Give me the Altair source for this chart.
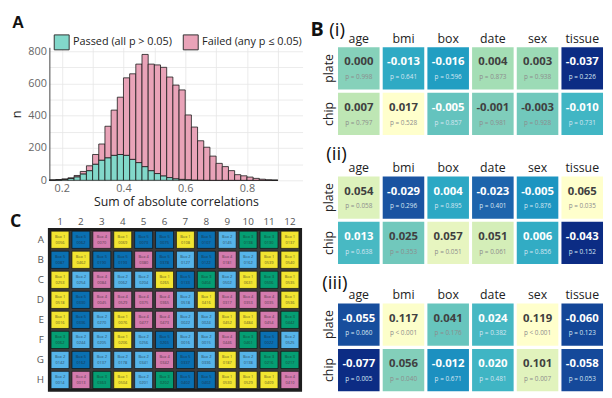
import altair as alt
import pandas as pd
import numpy as np

FONT = "Open Sans"

# ---------------- Panel A : histogram ----------------
bin_start = [0.16, 0.18, 0.20, 0.22, 0.24, 0.26, 0.28, 0.30, 0.32, 0.34, 0.36, 0.38,
             0.40, 0.42, 0.44, 0.46, 0.48, 0.50, 0.52, 0.54, 0.56, 0.58, 0.60, 0.62,
             0.64, 0.66, 0.68, 0.70, 0.72, 0.74, 0.76, 0.78, 0.80, 0.82, 0.84, 0.86, 0.88]
passed = [1, 3, 6, 12, 22, 40, 60, 100, 125, 140, 155, 160, 155, 130, 110, 85, 60, 42,
          28, 17, 10, 6, 4, 2, 1, 0, 0, 0, 0, 0, 0, 0, 0, 0, 0, 0, 0]
failed = [1, 1, 2, 3, 8, 15, 30, 60, 100, 195, 280, 355, 480, 530, 610, 695, 660, 673,
          672, 623, 580, 554, 401, 328, 244, 205, 150, 105, 85, 60, 35, 28, 20, 12, 7, 3, 1]
BIN_W = 0.02
groups = ["Passed (all p > 0.05)", "Failed (any p \u2264 0.05)"]
hist_colors = ["#82D8CA", "#E9A3B8"]

rowsA = []
for s, p, f in zip(bin_start, passed, failed):
    rowsA.append(dict(x0=s, x1=round(s + BIN_W, 3), lo=0, hi=p, grp=groups[0]))
    rowsA.append(dict(x0=s, x1=round(s + BIN_W, 3), lo=p, hi=p + f, grp=groups[1]))
dfA = pd.DataFrame(rowsA)

x_vals = [0.2, 0.3, 0.4, 0.5, 0.6, 0.7, 0.8, 0.9]
y_vals = [0, 100, 200, 300, 400, 500, 600, 700, 800]

hist = alt.Chart(dfA).mark_rect(stroke="#1a1a1a", strokeWidth=0.8).encode(
    x=alt.X("x0:Q", scale=alt.Scale(domain=[0.16, 0.98], nice=False, zero=False),
            axis=alt.Axis(values=x_vals,
                          labelExpr="(datum.value*10) % 2 < 0.5 ? datum.label : ''",
                          title="Sum of absolute correlations", titleFontSize=12.5,
                          titleFontWeight="normal", titleColor="#222", titlePadding=3,
                          labelColor="#666", labelFontSize=11, labelPadding=2,
                          ticks=False, domain=False, gridColor="#e6e6e6", gridWidth=0.8)),
    x2="x1",
    y=alt.Y("lo:Q", scale=alt.Scale(domain=[0, 824], nice=False),
            axis=alt.Axis(values=y_vals,
                          labelExpr="datum.value % 200 == 0 ? datum.label : ''",
                          title="n", titleFontSize=13, titleFontWeight="normal",
                          titleColor="#222", titlePadding=4,
                          labelColor="#666", labelFontSize=11, labelPadding=3,
                          ticks=False, domain=True, domainColor="#444", domainWidth=1,
                          gridColor="#e6e6e6", gridWidth=0.8)),
    y2="hi",
    color=alt.Color("grp:N", scale=alt.Scale(domain=groups, range=hist_colors),
                    legend=alt.Legend(orient="none", legendX=4, legendY=-14,
                                      direction="horizontal", title=None,
                                      symbolType="square", symbolSize=230,
                                      symbolStrokeColor="#333", symbolStrokeWidth=1,
                                      labelFontSize=11, labelColor="#222",
                                      columnPadding=8, labelOffset=3)),
)

labA = alt.Chart(pd.DataFrame({"t": ["A"]})).mark_text(
    fontSize=17, fontWeight="bold", align="left", baseline="alphabetic", color="#111",
    font="Liberation Sans"
).encode(text="t:N", x=alt.value(-38), y=alt.value(-20))

# invisible spacer that keeps the panel's top edge where the layout needs it
spacerA = alt.Chart(pd.DataFrame({"k": [0]})).mark_rule(opacity=0).encode(
    x=alt.value(0), y=alt.value(-39), y2=alt.value(-38))

panelA = alt.layer(hist, labA, spacerA).properties(width=257, height=135)

# ---------------- Panel C : plate layout ----------------
plate_rows = ["A", "B", "C", "D", "E", "F", "G", "H"]
plate_cols = [str(i) for i in range(1, 13)]
plate_groups = [
    "YDPYDDYDLGGY",
    "DYDDPDLDPLYY",
    "YLPLLYDGLYGY",
    "YDPPPPLYPPPY",
    "YDLYPPLLYYPG",
    "GLLYLDLLPGDL",
    "LDLLLPDLYLGG",
    "LPGYLGDDYYYP",
]
plate_ids = [
    ["0056", "0062", "0070", "0069", "0073", "0075", "0108", "0107", "0145", "0138", "0130", "0137"],
    ["0087", "0462", "0190", "0193", "0380", "0378", "0127", "0122", "0181", "0162", "0539", "0540"],
    ["0253", "0254", "0084", "0062", "0204", "0265", "0133", "0404", "0502", "0631", "0506", "0535"],
    ["0518", "0330", "0045", "0529", "0375", "0365", "0518", "0416", "0317", "0353", "0035", "0536"],
    ["0016", "0336", "0270", "0076", "0477", "0473", "0022", "0024", "0452", "0484", "0454", "0442"],
    ["0062", "0244", "0205", "0206", "0256", "0265", "0016", "0015", "0446", "0461", "0022", "0525"],
    ["0142", "0162", "0137", "0178", "0341", "0342", "0337", "0336", "0187", "0138", "0216", "0217"],
    ["0014", "0013", "0363", "0504", "0201", "0202", "0402", "0402", "0530", "0529", "0409", "0410"],
]
group_keys = ["Y", "D", "P", "L", "G"]
group_box = {"Y": "Box 1", "D": "Box 5", "P": "Box 4", "L": "Box 2", "G": "Box 3"}
plate_palette = ["#F2E531", "#0A70B2", "#D47BAE", "#56B4E9", "#059E73"]

rowsC = []
for ri, r in enumerate(plate_rows):
    for ci, c in enumerate(plate_cols):
        g = plate_groups[ri][ci]
        rowsC.append(dict(row=r, col=c, grp=g, box=group_box[g], sid=plate_ids[ri][ci]))
dfC = pd.DataFrame(rowsC)

xC = alt.X("col:O", sort=plate_cols, scale=alt.Scale(paddingInner=0.14, paddingOuter=0.08),
           axis=alt.Axis(orient="top", title=None, labelAngle=0, ticks=False, domain=False,
                         labelPadding=3, labelFontSize=10, labelColor="#555"))
yC = alt.Y("row:O", sort=plate_rows, scale=alt.Scale(paddingInner=0.14, paddingOuter=0.08),
           axis=alt.Axis(title=None, ticks=False, domain=False, labelPadding=6,
                         labelFontSize=10, labelColor="#555"))

cells = alt.Chart(dfC).mark_rect(stroke="#111", strokeWidth=0.7).encode(
    x=xC, y=yC,
    color=alt.Color("grp:N", scale=alt.Scale(domain=group_keys, range=plate_palette), legend=None),
)
t1 = alt.Chart(dfC).mark_text(fontSize=4, dy=-3, color="#222", opacity=0.7).encode(
    x=xC, y=yC, text="box:N")
t2 = alt.Chart(dfC).mark_text(fontSize=4, dy=3, color="#222", opacity=0.7).encode(
    x=xC, y=yC, text="sid:N")
labC = alt.Chart(pd.DataFrame({"t": ["C"]})).mark_text(
    fontSize=18, fontWeight="bold", align="left", baseline="alphabetic", color="#111"
).encode(text="t:N", x=alt.value(-40), y=alt.value(-3))

panelC = alt.layer(cells, t1, t2, labC).properties(
    width=255, height=163,
    view=alt.ViewBackground(fill="#3a3a3a", stroke="#1e1e1e", strokeWidth=3),
)

# ---------------- Panel B : correlation heatmaps ----------------
variables = ["age", "bmi", "box", "date", "sex", "tissue"]
kinds = ["plate", "chip"]

r_i_plate = [0.000, -0.013, -0.016, 0.004, 0.003, -0.037]
r_i_chip = [0.007, 0.017, -0.005, -0.001, -0.003, -0.010]
p_i_plate = ["p = 0.998", "p = 0.641", "p = 0.596", "p = 0.873", "p = 0.938", "p = 0.226"]
p_i_chip = ["p = 0.797", "p = 0.528", "p = 0.857", "p = 0.981", "p = 0.928", "p = 0.731"]

r_ii_plate = [0.054, -0.029, 0.004, -0.023, -0.005, 0.065]
r_ii_chip = [0.013, 0.025, 0.057, 0.051, 0.006, -0.043]
p_ii_plate = ["p = 0.058", "p = 0.296", "p = 0.895", "p = 0.401", "p = 0.876", "p = 0.035"]
p_ii_chip = ["p = 0.638", "p = 0.353", "p = 0.051", "p = 0.061", "p = 0.856", "p = 0.152"]

r_iii_plate = [-0.055, 0.117, 0.041, 0.024, 0.119, -0.060]
r_iii_chip = [-0.077, 0.056, -0.012, 0.020, 0.101, -0.058]
p_iii_plate = ["p = 0.060", "p < 0.001", "p = 0.176", "p = 0.382", "p < 0.001", "p = 0.123"]
p_iii_chip = ["p = 0.005", "p = 0.040", "p = 0.671", "p = 0.481", "p = 0.007", "p = 0.053"]

YLGNBU = ["#0c2c84", "#225ea8", "#1d91c0", "#41b6c4", "#7fcdbb", "#c7e9b4", "#ffffcc"]


def heat(rp, rc, pp, pc, big, small, sx, sy, first):
    rows = []
    allr = rp + rc
    mn, mx = min(allr), max(allr)
    for kind, rr, pv in (("plate", rp, pp), ("chip", rc, pc)):
        for v, r, p in zip(variables, rr, pv):
            t = (r - mn) / (mx - mn)
            rows.append(dict(var=v, kind=kind, r=r, lab=f"{r:.3f}", ptxt=p, light=bool(t < 0.6)))
    df = pd.DataFrame(rows)
    x = alt.X("var:N", sort=variables, scale=alt.Scale(paddingInner=0.07, paddingOuter=0.0),
              axis=alt.Axis(orient="top", title=None, labelAngle=0, ticks=False, domain=False,
                            labelPadding=2, labelFontSize=12.5, labelColor="#222"))
    y = alt.Y("kind:N", sort=kinds, scale=alt.Scale(paddingInner=0.07, paddingOuter=0.0),
              axis=alt.Axis(title=None, labelAngle=-90, ticks=False, domain=False,
                            labelPadding=3, labelFontSize=12.5, labelColor="#222"))
    dom = [float(v) for v in np.linspace(mn, mx, len(YLGNBU))]
    rect = alt.Chart(df).mark_rect().encode(
        x=x, y=y,
        color=alt.Color("r:Q", scale=alt.Scale(domain=dom, range=YLGNBU), legend=None))
    val = alt.Chart(df).mark_text(fontSize=11.5, fontWeight="bold", dy=-6).encode(
        x=x, y=y, text="lab:N",
        color=alt.condition("datum.light", alt.value("#ffffff"), alt.value("#404040")))
    ptx = alt.Chart(df).mark_text(fontSize=6.5, dy=9).encode(
        x=x, y=y, text="ptxt:N",
        color=alt.condition("datum.light", alt.value("#d6e6f2"), alt.value("#8c8c8c")))
    layers = [rect, val, ptx]
    if first:
        layers.append(alt.Chart(pd.DataFrame({"t": [big]})).mark_text(
            fontSize=20, fontWeight="bold", align="left", baseline="alphabetic", color="#111"
        ).encode(text="t:N", x=alt.value(-28), y=alt.value(sy)))
    layers.append(alt.Chart(pd.DataFrame({"t": [small]})).mark_text(
        fontSize=19, align="left", baseline="alphabetic", color="#111"
    ).encode(text="t:N", x=alt.value(sx), y=alt.value(sy)))
    return alt.layer(*layers).properties(width=269, height=89)


B1 = heat(r_i_plate, r_i_chip, p_i_plate, p_i_chip, "B", "(i)", -9, -11, True)
B2 = heat(r_ii_plate, r_ii_chip, p_ii_plate, p_ii_chip, "", "(ii)", -12, -17, False)
B3 = heat(r_iii_plate, r_iii_chip, p_iii_plate, p_iii_chip, "", "(iii)", -16, -15, False)

left = alt.vconcat(panelA, panelC, spacing=2).resolve_scale(color="independent")
right = alt.vconcat(B1, B2, B3, spacing=8).resolve_scale(color="independent")

chart = alt.hconcat(left, right, spacing=6).resolve_scale(color="independent").properties(
    padding={"left": 0, "top": -3, "right": 0, "bottom": 0}, background="white"
).configure_view(stroke="transparent").configure_axis(
    labelFont=FONT, titleFont=FONT
).configure_legend(labelFont=FONT).configure_text(font=FONT)

chart.save("out.html", embed_options={"renderer": "svg", "actions": False})
